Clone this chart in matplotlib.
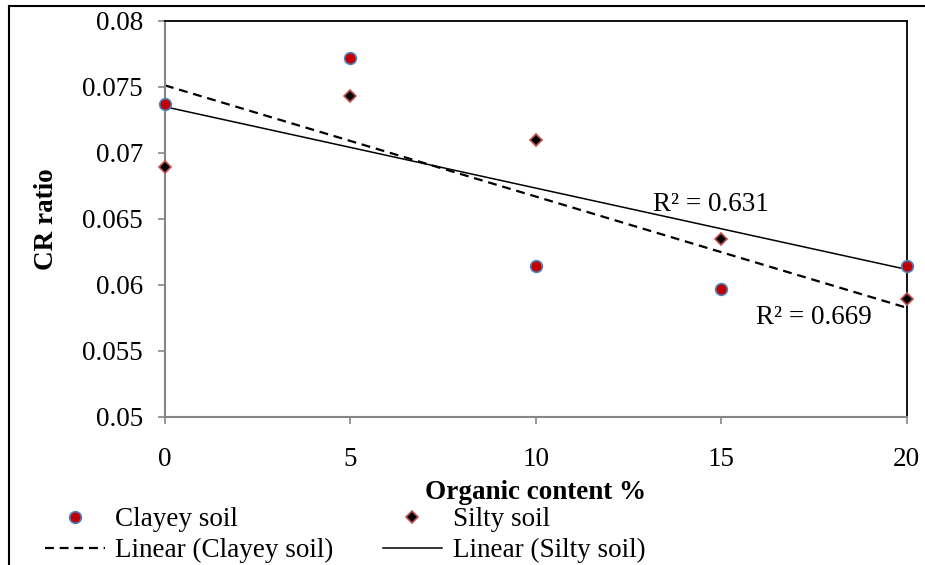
import numpy as np
import matplotlib
matplotlib.use("Agg")
import matplotlib.pyplot as plt
from matplotlib.lines import Line2D

plt.rcParams['font.family'] = ['Liberation Serif', 'DejaVu Serif']

organic = [0, 5, 10, 15, 20]
clayey = [0.0737, 0.0772, 0.0614, 0.0597, 0.0614]
silty = [0.0689, 0.0743, 0.0710, 0.0635, 0.0589]
x_ticks = [0, 5, 10, 15, 20]
y_ticks = [0.05, 0.055, 0.06, 0.065, 0.07, 0.075, 0.08]
y_tick_labels = ["0.05", "0.055", "0.06", "0.065", "0.07", "0.075", "0.08"]
r2_silty_label = "R² = 0.631"
r2_clayey_label = "R² = 0.669"

W, H = 925, 565
fig = plt.figure(figsize=(W / 100, H / 100), dpi=100)
ax = fig.add_axes([165 / W, 1 - 416.7 / H, (906.5 - 165) / W, (416.7 - 20.7) / H])

fs = 19.5
gray = '#868686'

# trendlines (least-squares fits of the data)
xs = np.array([0, 20])
cc = np.polyfit(organic, clayey, 1)
cs = np.polyfit(organic, silty, 1)
ln_c, = ax.plot(xs, np.polyval(cc, xs), color='black', lw=1.6, dashes=(4, 2.6),
                label='Linear (Clayey soil)', zorder=2)
ln_s, = ax.plot(xs, np.polyval(cs, xs), color='black', lw=1.1,
                label='Linear (Silty soil)', zorder=2)

mc, = ax.plot(organic, clayey, 'o', ms=8.4, mfc='#C00000', mec='#4F81BD', mew=1.2,
              linestyle='none', label='Clayey soil', zorder=3, clip_on=False)
ms_, = ax.plot(organic, silty, 'D', ms=6.6, mfc='black', mec='#C0504D', mew=1.2,
               linestyle='none', label='Silty soil', zorder=4, clip_on=False)

ax.text(14.72, 0.06606, r2_silty_label, fontsize=fs, ha='center', va='center')
ax.text(17.5, 0.05755, r2_clayey_label, fontsize=fs, ha='center', va='center')

ax.set_xlim(0, 20)
ax.set_ylim(0.05, 0.08)
ax.set_xticks(x_ticks)
ax.set_xticklabels([str(v) for v in x_ticks])
ax.set_yticks(y_ticks)
ax.set_yticklabels(y_tick_labels)
ax.tick_params(axis='x', direction='out', length=5, width=1.2, color=gray,
               labelsize=fs, pad=17)
ax.tick_params(axis='y', direction='out', length=5, width=1.2, color=gray,
               labelsize=fs, pad=11)
for s in ['left', 'bottom']:
    ax.spines[s].set_color(gray)
    ax.spines[s].set_linewidth(1.5)
for s in ['top', 'right']:
    ax.spines[s].set_color('black')
    ax.spines[s].set_linewidth(1.3)

ax.set_xlabel("Organic content %", fontsize=fs, fontweight='bold', labelpad=5.5)
ax.set_ylabel("CR ratio", fontsize=fs, fontweight='bold', labelpad=16.5)

# outer chart frame
fig.add_artist(Line2D([8.5 / W, 8.5 / W], [0, 1 - 5.5 / H], transform=fig.transFigure,
                      color='black', lw=1.5))
fig.add_artist(Line2D([8.5 / W, 1], [1 - 5.5 / H, 1 - 5.5 / H], transform=fig.transFigure,
                      color='black', lw=1.5))

leg = fig.legend(handles=[mc, ln_c, ms_, ln_s], ncol=2, loc='upper left',
                 bbox_to_anchor=(45 / W, 1 - 507.5 / H), frameon=False,
                 fontsize=fs, handlelength=2.2, handletextpad=0.4,
                 columnspacing=1.8, labelspacing=0.2, borderpad=0,
                 borderaxespad=0, numpoints=1)

fig.savefig("out.png", dpi=100)
